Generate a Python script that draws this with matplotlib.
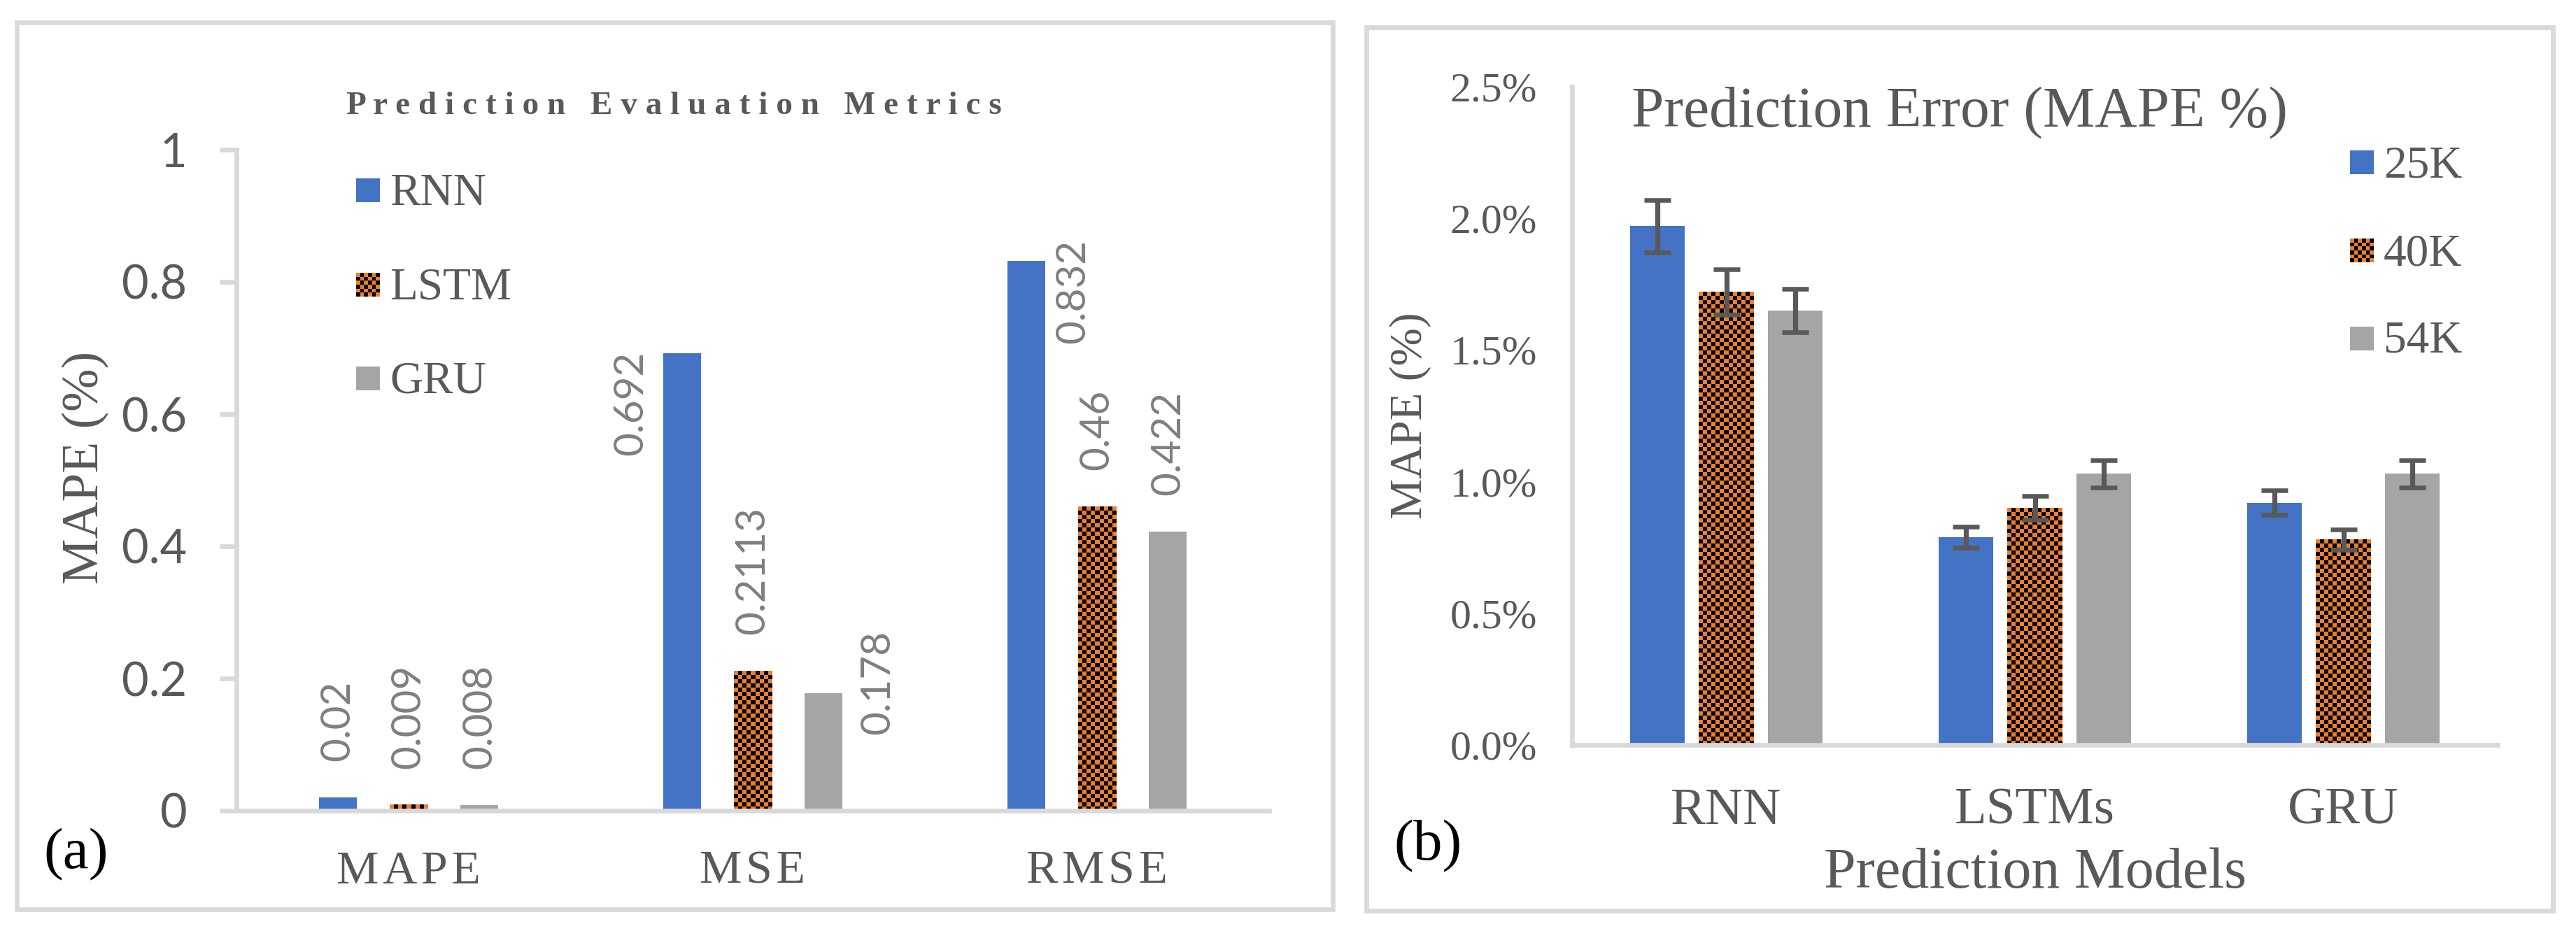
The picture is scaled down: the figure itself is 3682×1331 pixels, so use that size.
import matplotlib
matplotlib.use("Agg")
import matplotlib.pyplot as plt
import numpy as np
from matplotlib.colors import ListedColormap
from matplotlib.patches import Rectangle

W, H = 3682, 1331
DPI = 100

# panel (a): evaluation metrics per model
METRICS = ["MAPE", "MSE", "RMSE"]
MODELS_A = ["RNN", "LSTM", "GRU"]
RNN_VALS = [0.02, 0.692, 0.832]
LSTM_VALS = [0.009, 0.2113, 0.46]
GRU_VALS = [0.008, 0.178, 0.422]
A_TICKS = [0, 0.2, 0.4, 0.6, 0.8, 1]
A_TICK_LABELS = ["0", "0.2", "0.4", "0.6", "0.8", "1"]

# panel (b): MAPE per model and data size
MODELS_B = ["RNN", "LSTMs", "GRU"]
SIZES = ["25K", "40K", "54K"]
MAPE_25K = [1.97, 0.79, 0.92]
MAPE_40K = [1.72, 0.90, 0.78]
MAPE_54K = [1.65, 1.03, 1.03]
ERR_25K = [0.10, 0.040, 0.046]
ERR_40K = [0.086, 0.045, 0.039]
ERR_54K = [0.083, 0.052, 0.052]
B_TICKS = [0.0, 0.5, 1.0, 1.5, 2.0, 2.5]

BLUE = "#4472C4"
ORANGE = "#ED7D31"
GRAY = "#A5A5A5"
TXT = "#595959"
LBL = "#7F7F7F"
AXIS = "#D9D9D9"
CHECK = ListedColormap([ORANGE, "black"])
SERIF = "Liberation Serif"
LW = 4.8

# where Excel put the rotated value labels: (dx, y, va) relative to bar
LABEL_PLACE = {
    (0, 1): (-0.148, 0.695, "top"),
    (2, 1): (0.158, 0.194, "center"),
    (0, 2): (0.137, 0.786, "center"),
}


def px(x, y):
    return x / W, 1 - y / H


def axes_box(left, top, right, bottom):
    return [left / W, 1 - bottom / H, (right - left) / W, (bottom - top) / H]


def checker_grid(pw, ph, cell=6):
    nx = max(1, int(round(pw / cell)))
    ny = max(1, int(round(ph / cell)))
    return np.indices((ny, nx)).sum(axis=0) % 2


def checker(ax, bar, z):
    x0, y0 = bar.get_x(), bar.get_y()
    w, h = bar.get_width(), bar.get_height()
    (p0x, p0y), (p1x, p1y) = ax.transData.transform([(x0, y0), (x0 + w, y0 + h)])
    grid = checker_grid(p1x - p0x, p1y - p0y)
    ax.imshow(grid, cmap=CHECK, extent=[x0, x0 + w, y0, y0 + h], aspect="auto",
              interpolation="nearest", zorder=z)


def legend_entry(ov, x0, yc, yb, w, h, color, label, size, checkered=False):
    if checkered:
        grid = checker_grid(w, h)
        ov.imshow(grid, cmap=CHECK, extent=[x0, x0 + w, H - yc - h / 2, H - yc + h / 2],
                  aspect="auto", interpolation="nearest", zorder=3)
    else:
        ov.add_patch(Rectangle((x0, H - yc - h / 2), w, h, facecolor=color, edgecolor="none"))
    ov.text(x0 + w + 14, H - yb, label, fontsize=size, family=SERIF, color=TXT,
            ha="left", va="baseline")


def style_axes(ax):
    for s in ["top", "right"]:
        ax.spines[s].set_visible(False)
    for s in ["left", "bottom"]:
        ax.spines[s].set_color(AXIS)
        ax.spines[s].set_linewidth(LW)
    ax.set_facecolor("none")


fig = plt.figure(figsize=(W / DPI, H / DPI), dpi=DPI)

ov = fig.add_axes([0, 0, 1, 1])
ov.set_xlim(0, W)
ov.set_ylim(0, H)
ov.axis("off")
ov.add_patch(Rectangle((24, H - 1300), 1881, 1268, fill=False, edgecolor=AXIS, lw=LW))
ov.add_patch(Rectangle((1953, H - 1302), 1696, 1263, fill=False, edgecolor=AXIS, lw=LW))

# ---- panel (a)
ax1 = fig.add_axes(axes_box(338, 214, 1814, 1159))
style_axes(ax1)
x = np.arange(len(METRICS))
bw, step = 0.11, 0.206
series_a = [RNN_VALS, LSTM_VALS, GRU_VALS]
colors_a = [BLUE, ORANGE, GRAY]
ax1.set_xlim(-0.5, 2.5)
ax1.set_ylim(0, 1)
bars_a = []
for i, (vals, c) in enumerate(zip(series_a, colors_a)):
    bars_a.append(ax1.bar(x + (i - 1) * step, vals, bw, color=c, zorder=2))
for b in bars_a[1]:
    checker(ax1, b, 2.1)
ax1.set_xlim(-0.5, 2.5)
ax1.set_ylim(0, 1)

for i, vals in enumerate(series_a):
    for j, v in enumerate(vals):
        xc = x[j] + (i - 1) * step
        dx, yy, va = LABEL_PLACE.get((i, j), (0, v + 0.055, "bottom"))
        ax1.text(xc + dx, yy, f"{v:g}", rotation=90, ha="center", va=va,
                 fontsize=42, color=LBL, family="Lato")

ax1.set_yticks(A_TICKS)
ax1.set_yticklabels(A_TICK_LABELS, family="Lato", fontsize=48, color=TXT)
ax1.tick_params(axis="y", length=17, width=LW, color=AXIS, pad=34)
ax1.set_xticks(x)
ax1.set_xticklabels(["\u200a".join(m) for m in METRICS], family=[SERIF, "DejaVu Sans"],
                    fontsize=49, color=TXT)
ax1.tick_params(axis="x", length=0, pad=41)

fig.text(*px(122, 668), "MAPE (%)", rotation=90, fontsize=53, family=SERIF, color=TXT,
         ha="center", va="center")
fig.text(*px(109, 1222), "(a)", fontsize=60, family=SERIF, color="black", ha="center", va="center")
title_a = "   ".join(" ".join(w) for w in "Prediction Evaluation Metrics".split())
fig.text(*px(963, 163), title_a, fontsize=34, family=SERIF, weight="bold", color=TXT,
         ha="center", va="baseline")
legend_entry(ov, 509, 272, 293, 34, 34, BLUE, MODELS_A[0], 47)
legend_entry(ov, 509, 407, 428, 34, 34, ORANGE, MODELS_A[1], 47, checkered=True)
legend_entry(ov, 509, 541, 562, 34, 34, GRAY, MODELS_A[2], 47)

# ---- panel (b)
ax2 = fig.add_axes(axes_box(2247, 124, 3570, 1065))
style_axes(ax2)
bw2, step2 = 0.178, 0.223
series_b = [MAPE_25K, MAPE_40K, MAPE_54K]
errs_b = [ERR_25K, ERR_40K, ERR_54K]
ax2.set_xlim(-0.5, 2.5)
ax2.set_ylim(0, 2.5)
for i, (vals, errs, c) in enumerate(zip(series_b, errs_b, colors_a)):
    bars = ax2.bar(x + (i - 1) * step2, vals, bw2, color=c, zorder=2)
    if i == 1:
        for b in bars:
            checker(ax2, b, 2.1)
    ax2.errorbar(x + (i - 1) * step2, vals, yerr=errs, fmt="none", ecolor=TXT,
                 elinewidth=5.2, capsize=14, capthick=4.7, zorder=4)
ax2.set_xlim(-0.5, 2.5)
ax2.set_ylim(0, 2.5)

ax2.set_yticks(B_TICKS)
ax2.set_yticklabels([f"{t:.1f}%" for t in B_TICKS], family=SERIF, fontsize=43, color=TXT)
ax2.tick_params(axis="y", length=0, pad=36)
ax2.set_xticks(x)
ax2.set_xticklabels(MODELS_B, family=SERIF, fontsize=54, color=TXT)
ax2.tick_params(axis="x", length=0, pad=44)

fig.text(*px(2016, 594), "MAPE (%)", rotation=90, fontsize=47, family=SERIF, color=TXT,
         ha="center", va="center")
fig.text(*px(2909, 1269), "Prediction Models", fontsize=59, family=SERIF, color=TXT,
         ha="center", va="baseline")
fig.text(*px(2041, 1210), "(b)", fontsize=60, family=SERIF, color="black", ha="center", va="center")
fig.text(*px(2332, 181), "Prediction Error (MAPE %)", fontsize=60, family=SERIF, color=TXT,
         ha="left", va="baseline")
legend_entry(ov, 3359, 232, 253, 34, 34, BLUE, SIZES[0], 47)
legend_entry(ov, 3359, 358, 379, 34, 34, ORANGE, SIZES[1], 47, checkered=True)
legend_entry(ov, 3359, 484, 504, 34, 34, GRAY, SIZES[2], 47)

fig.savefig("out.png", dpi=DPI)
